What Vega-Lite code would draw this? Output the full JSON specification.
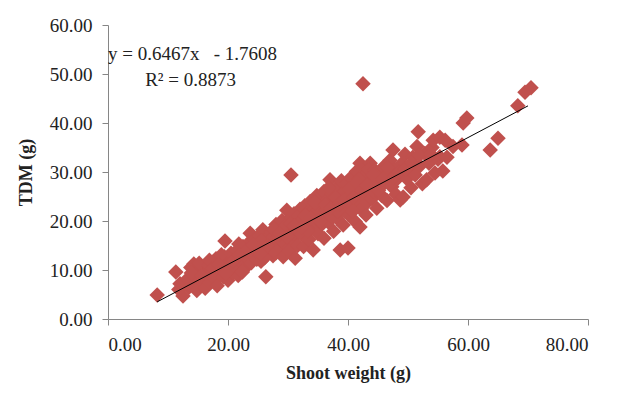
{
  "$schema": "https://vega.github.io/schema/vega-lite/v6.json",
  "width": 480,
  "height": 294,
  "autosize": {"type": "none"},
  "padding": {"left": 108, "top": 25, "right": 36, "bottom": 75},
  "background": "white",
  "config": {
    "view": {"stroke": null},
    "font": "Liberation Serif",
    "axis": {
      "grid": false,
      "domainColor": "#868686",
      "tickColor": "#868686",
      "tickSize": 6,
      "labelFont": "Liberation Serif",
      "labelFontSize": 19,
      "labelColor": "#222222",
      "titleFont": "Liberation Serif",
      "titleFontSize": 18,
      "titleFontWeight": "bold",
      "titleColor": "#222222"
    }
  },
  "datasets": {
    "pts": [
      {"sw": 8.2, "tdm": 4.9}, {"sw": 11.3, "tdm": 9.6}, {"sw": 12.5, "tdm": 4.7}, {"sw": 12.0, "tdm": 7.2}, {"sw": 11.8, "tdm": 6.0},
      {"sw": 13.2, "tdm": 8.1}, {"sw": 13.5, "tdm": 6.5}, {"sw": 13.8, "tdm": 10.5}, {"sw": 14.0, "tdm": 7.6}, {"sw": 14.3, "tdm": 11.2},
      {"sw": 14.6, "tdm": 9.0}, {"sw": 14.8, "tdm": 5.8}, {"sw": 15.0, "tdm": 8.4}, {"sw": 15.3, "tdm": 10.1}, {"sw": 15.5, "tdm": 6.9},
      {"sw": 15.8, "tdm": 7.5}, {"sw": 16.0, "tdm": 9.6}, {"sw": 15.2, "tdm": 11.4}, {"sw": 13.9, "tdm": 9.4}, {"sw": 16.2, "tdm": 6.3},
      {"sw": 16.5, "tdm": 8.8}, {"sw": 16.8, "tdm": 10.9}, {"sw": 17.0, "tdm": 7.4}, {"sw": 17.2, "tdm": 9.9}, {"sw": 17.5, "tdm": 11.6},
      {"sw": 17.8, "tdm": 8.2}, {"sw": 18.0, "tdm": 12.3}, {"sw": 18.2, "tdm": 6.8}, {"sw": 18.5, "tdm": 10.4}, {"sw": 18.7, "tdm": 9.1},
      {"sw": 19.0, "tdm": 11.8}, {"sw": 19.2, "tdm": 8.6}, {"sw": 19.5, "tdm": 15.9}, {"sw": 19.4, "tdm": 12.7}, {"sw": 19.8, "tdm": 10.0},
      {"sw": 20.0, "tdm": 7.9}, {"sw": 16.9, "tdm": 12.0}, {"sw": 18.9, "tdm": 13.1},
      {"sw": 20.3, "tdm": 11.4}, {"sw": 20.5, "tdm": 13.4}, {"sw": 20.8, "tdm": 9.5}, {"sw": 21.0, "tdm": 12.1}, {"sw": 21.2, "tdm": 10.8},
      {"sw": 21.5, "tdm": 14.0}, {"sw": 21.7, "tdm": 8.9}, {"sw": 22.0, "tdm": 12.9}, {"sw": 22.2, "tdm": 11.0}, {"sw": 22.5, "tdm": 14.8},
      {"sw": 22.7, "tdm": 10.2}, {"sw": 23.0, "tdm": 13.6}, {"sw": 23.2, "tdm": 12.4}, {"sw": 23.5, "tdm": 15.6}, {"sw": 23.7, "tdm": 17.5},
      {"sw": 23.9, "tdm": 11.5}, {"sw": 24.0, "tdm": 14.3}, {"sw": 20.6, "tdm": 10.5}, {"sw": 22.4, "tdm": 9.6}, {"sw": 21.8, "tdm": 15.3},
      {"sw": 24.3, "tdm": 13.0}, {"sw": 24.5, "tdm": 16.2}, {"sw": 24.8, "tdm": 12.2}, {"sw": 25.0, "tdm": 14.9}, {"sw": 25.2, "tdm": 17.0},
      {"sw": 25.5, "tdm": 11.8}, {"sw": 25.8, "tdm": 18.2}, {"sw": 26.0, "tdm": 15.4}, {"sw": 26.3, "tdm": 8.6}, {"sw": 26.5, "tdm": 13.7},
      {"sw": 26.7, "tdm": 16.8}, {"sw": 27.0, "tdm": 14.2}, {"sw": 27.2, "tdm": 17.8}, {"sw": 27.5, "tdm": 12.9}, {"sw": 27.8, "tdm": 15.9},
      {"sw": 28.0, "tdm": 19.3}, {"sw": 28.0, "tdm": 13.5}, {"sw": 24.6, "tdm": 14.0}, {"sw": 26.1, "tdm": 12.5}, {"sw": 27.4, "tdm": 16.5},
      {"sw": 25.6, "tdm": 16.0},
      {"sw": 28.3, "tdm": 16.6}, {"sw": 28.5, "tdm": 18.4}, {"sw": 28.7, "tdm": 14.6}, {"sw": 29.0, "tdm": 20.1}, {"sw": 29.2, "tdm": 12.7},
      {"sw": 29.4, "tdm": 17.2}, {"sw": 29.6, "tdm": 15.3}, {"sw": 29.8, "tdm": 22.2}, {"sw": 30.0, "tdm": 18.9}, {"sw": 30.2, "tdm": 13.9},
      {"sw": 30.5, "tdm": 29.4}, {"sw": 30.5, "tdm": 20.6}, {"sw": 30.7, "tdm": 16.4}, {"sw": 31.0, "tdm": 21.5}, {"sw": 31.2, "tdm": 12.4},
      {"sw": 31.4, "tdm": 18.0}, {"sw": 31.6, "tdm": 15.0}, {"sw": 31.8, "tdm": 19.6}, {"sw": 32.0, "tdm": 22.4}, {"sw": 29.5, "tdm": 19.0},
      {"sw": 30.9, "tdm": 17.5}, {"sw": 28.9, "tdm": 16.0}, {"sw": 31.5, "tdm": 20.8},
      {"sw": 32.2, "tdm": 17.3}, {"sw": 32.4, "tdm": 20.3}, {"sw": 32.6, "tdm": 14.8}, {"sw": 32.8, "tdm": 23.1}, {"sw": 33.0, "tdm": 19.0},
      {"sw": 33.2, "tdm": 21.7}, {"sw": 33.5, "tdm": 16.2}, {"sw": 33.7, "tdm": 24.0}, {"sw": 34.0, "tdm": 18.5}, {"sw": 34.2, "tdm": 14.1},
      {"sw": 34.4, "tdm": 22.5}, {"sw": 34.6, "tdm": 20.0}, {"sw": 34.8, "tdm": 25.2}, {"sw": 35.0, "tdm": 17.4}, {"sw": 35.2, "tdm": 21.2},
      {"sw": 35.5, "tdm": 23.5}, {"sw": 35.7, "tdm": 19.4}, {"sw": 36.0, "tdm": 26.0}, {"sw": 36.0, "tdm": 16.5}, {"sw": 33.3, "tdm": 18.0},
      {"sw": 34.9, "tdm": 22.0}, {"sw": 35.8, "tdm": 21.0},
      {"sw": 36.3, "tdm": 22.1}, {"sw": 36.5, "tdm": 24.3}, {"sw": 36.7, "tdm": 19.8}, {"sw": 37.0, "tdm": 28.4}, {"sw": 37.2, "tdm": 21.0},
      {"sw": 37.4, "tdm": 25.5}, {"sw": 37.6, "tdm": 17.9}, {"sw": 37.8, "tdm": 23.0}, {"sw": 38.0, "tdm": 26.7}, {"sw": 38.2, "tdm": 20.5},
      {"sw": 38.5, "tdm": 24.6}, {"sw": 38.7, "tdm": 14.1}, {"sw": 38.9, "tdm": 28.2}, {"sw": 39.0, "tdm": 22.3}, {"sw": 39.2, "tdm": 19.2},
      {"sw": 39.4, "tdm": 26.0}, {"sw": 39.6, "tdm": 23.7}, {"sw": 39.8, "tdm": 27.6}, {"sw": 40.0, "tdm": 14.5}, {"sw": 40.0, "tdm": 21.4},
      {"sw": 36.8, "tdm": 26.8}, {"sw": 38.3, "tdm": 22.0}, {"sw": 39.7, "tdm": 25.0},
      {"sw": 40.3, "tdm": 25.2}, {"sw": 40.5, "tdm": 28.9}, {"sw": 40.7, "tdm": 23.0}, {"sw": 41.0, "tdm": 27.0}, {"sw": 41.2, "tdm": 19.9},
      {"sw": 41.4, "tdm": 30.1}, {"sw": 41.6, "tdm": 24.4}, {"sw": 41.8, "tdm": 26.3}, {"sw": 42.0, "tdm": 31.8}, {"sw": 42.0, "tdm": 18.8},
      {"sw": 42.2, "tdm": 22.4}, {"sw": 42.5, "tdm": 48.0}, {"sw": 42.5, "tdm": 27.8}, {"sw": 42.7, "tdm": 25.0}, {"sw": 43.0, "tdm": 21.2},
      {"sw": 43.0, "tdm": 29.5}, {"sw": 43.2, "tdm": 23.8}, {"sw": 43.5, "tdm": 26.4}, {"sw": 43.7, "tdm": 31.8}, {"sw": 44.0, "tdm": 24.6},
      {"sw": 44.0, "tdm": 28.2}, {"sw": 40.8, "tdm": 22.0}, {"sw": 41.9, "tdm": 28.5}, {"sw": 43.4, "tdm": 30.5},
      {"sw": 44.3, "tdm": 26.0}, {"sw": 44.5, "tdm": 30.3}, {"sw": 44.8, "tdm": 22.6}, {"sw": 45.0, "tdm": 27.4}, {"sw": 45.3, "tdm": 29.0},
      {"sw": 45.6, "tdm": 25.2}, {"sw": 45.9, "tdm": 31.0}, {"sw": 46.2, "tdm": 27.9}, {"sw": 46.5, "tdm": 24.2}, {"sw": 46.8, "tdm": 29.8},
      {"sw": 47.0, "tdm": 32.4}, {"sw": 47.5, "tdm": 34.5}, {"sw": 47.3, "tdm": 27.0}, {"sw": 47.8, "tdm": 30.5}, {"sw": 48.0, "tdm": 25.4},
      {"sw": 48.3, "tdm": 28.7},
      {"sw": 48.7, "tdm": 24.3}, {"sw": 49.0, "tdm": 31.8}, {"sw": 49.2, "tdm": 24.9}, {"sw": 49.5, "tdm": 33.6}, {"sw": 49.8, "tdm": 28.6},
      {"sw": 50.2, "tdm": 30.8}, {"sw": 50.5, "tdm": 26.8}, {"sw": 50.8, "tdm": 33.0}, {"sw": 51.2, "tdm": 29.4}, {"sw": 51.5, "tdm": 35.2},
      {"sw": 51.7, "tdm": 38.2}, {"sw": 52.0, "tdm": 31.3}, {"sw": 52.4, "tdm": 27.6}, {"sw": 52.8, "tdm": 33.8}, {"sw": 53.1, "tdm": 28.4},
      {"sw": 53.5, "tdm": 31.8}, {"sw": 54.0, "tdm": 35.0}, {"sw": 54.2, "tdm": 36.5}, {"sw": 54.5, "tdm": 29.8}, {"sw": 55.0, "tdm": 32.6},
      {"sw": 55.3, "tdm": 37.1}, {"sw": 55.3, "tdm": 33.1}, {"sw": 55.8, "tdm": 30.2},
      {"sw": 56.2, "tdm": 36.5}, {"sw": 56.5, "tdm": 33.0}, {"sw": 57.5, "tdm": 35.2}, {"sw": 59.0, "tdm": 35.5}, {"sw": 59.2, "tdm": 40.0},
      {"sw": 59.8, "tdm": 41.0}, {"sw": 63.7, "tdm": 34.5}, {"sw": 65.0, "tdm": 36.9}, {"sw": 68.3, "tdm": 43.5}, {"sw": 69.5, "tdm": 46.3},
      {"sw": 70.5, "tdm": 47.2},
      {"sw": 15.6, "tdm": 8.9}, {"sw": 17.4, "tdm": 10.3}, {"sw": 18.4, "tdm": 11.1}, {"sw": 19.6, "tdm": 9.4}, {"sw": 20.9, "tdm": 11.9},
      {"sw": 21.9, "tdm": 13.1}, {"sw": 23.3, "tdm": 14.2}, {"sw": 24.2, "tdm": 15.1}, {"sw": 25.4, "tdm": 13.4}, {"sw": 26.6, "tdm": 15.0},
      {"sw": 27.6, "tdm": 18.3}, {"sw": 28.6, "tdm": 17.4}, {"sw": 29.9, "tdm": 16.8}, {"sw": 30.4, "tdm": 19.5}, {"sw": 31.1, "tdm": 19.0},
      {"sw": 32.3, "tdm": 18.8}, {"sw": 32.9, "tdm": 21.0}, {"sw": 33.8, "tdm": 20.6}, {"sw": 34.5, "tdm": 23.8}, {"sw": 35.4, "tdm": 19.9},
      {"sw": 36.2, "tdm": 23.3}, {"sw": 37.1, "tdm": 22.6}, {"sw": 37.9, "tdm": 24.8}, {"sw": 38.6, "tdm": 23.5}, {"sw": 39.3, "tdm": 24.2},
      {"sw": 40.2, "tdm": 26.6}, {"sw": 40.9, "tdm": 24.8}, {"sw": 41.5, "tdm": 27.8}, {"sw": 42.3, "tdm": 26.2}, {"sw": 43.1, "tdm": 27.3},
      {"sw": 44.2, "tdm": 29.4}, {"sw": 45.1, "tdm": 26.3}, {"sw": 45.8, "tdm": 28.5}, {"sw": 46.6, "tdm": 30.9}, {"sw": 47.6, "tdm": 28.9},
      {"sw": 48.5, "tdm": 30.0}, {"sw": 49.6, "tdm": 30.6}, {"sw": 50.6, "tdm": 31.9}, {"sw": 51.9, "tdm": 33.4}, {"sw": 53.8, "tdm": 33.6}
    ],
    "trend": [
      {"sw": 8.2, "tdm": 3.5},
      {"sw": 70.0, "tdm": 43.5}
    ],
    "annot": [
      {"sw": 0.0, "tdm": 54.1, "label": "y = 0.6467x\u00a0\u00a0\u00a0- 1.7608"},
      {"sw": 6.2, "tdm": 48.8, "label": "R² = 0.8873"}
    ]
  },
  "layer": [
    {
      "data": {"name": "pts"},
      "mark": {"type": "point", "shape": "diamond", "filled": true, "size": 240, "color": "#C0504D", "opacity": 1},
      "encoding": {
        "x": {
          "field": "sw", "type": "quantitative",
          "scale": {"domain": [0, 80], "nice": false, "zero": true},
          "axis": {"values": [0, 20, 40, 60, 80], "format": ".2f", "title": "Shoot weight (g)", "labelPadding": 10, "titlePadding": 10}
        },
        "y": {
          "field": "tdm", "type": "quantitative",
          "scale": {"domain": [0, 60], "nice": false},
          "axis": {"values": [0, 10, 20, 30, 40, 50, 60], "format": ".2f", "title": "TDM (g)", "labelPadding": 10, "titlePadding": 14}
        }
      }
    },
    {
      "data": {"name": "trend"},
      "mark": {"type": "line", "color": "#000000", "strokeWidth": 1},
      "encoding": {
        "x": {"field": "sw", "type": "quantitative"},
        "y": {"field": "tdm", "type": "quantitative"}
      }
    },
    {
      "data": {"name": "annot"},
      "mark": {"type": "text", "align": "left", "baseline": "middle", "font": "Liberation Serif", "fontSize": 19, "color": "#222222"},
      "encoding": {
        "x": {"field": "sw", "type": "quantitative"},
        "y": {"field": "tdm", "type": "quantitative"},
        "text": {"field": "label"}
      }
    }
  ]
}
